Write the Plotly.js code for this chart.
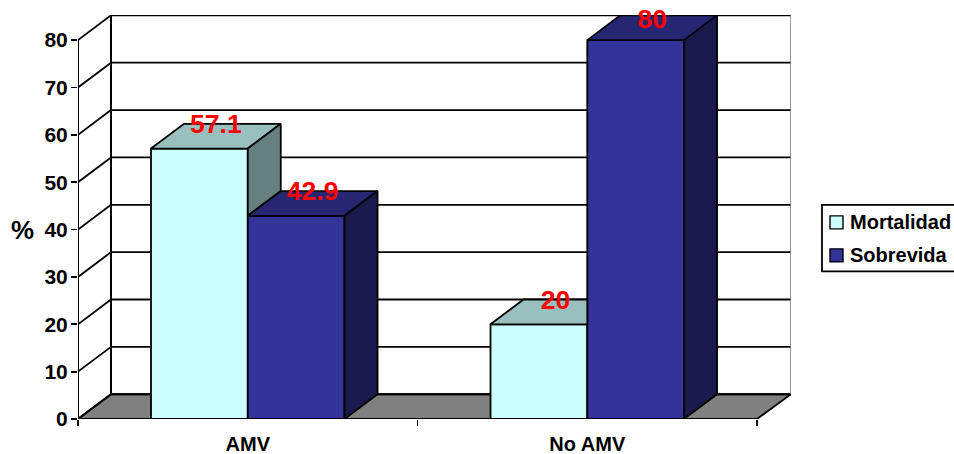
<!DOCTYPE html>
<html>
<head>
<meta charset="utf-8">
<script src="https://cdn.plot.ly/plotly-3.0.1.min.js"></script>
<style>html,body{margin:0;padding:0;background:#fff}</style>
</head>
<body>
<div id="chart" style="width:954px;height:454px"></div>
<script>
var categories = ['AMV', 'No AMV'];
var seriesNames = ['Mortalidad', 'Sobrevida'];
var mortalidad = [57.1, 20];
var sobrevida = [42.9, 80];
var yTicks = [0, 10, 20, 30, 40, 50, 60, 70, 80];

var FONT = '"Liberation Sans", Arial, sans-serif';
var frontColors = ['#CCFFFF', '#333399'];
var topColors = ['#99BFBF', '#262673'];
var sideColors = ['#668080', '#1A1A4D'];

var depthX = 0.0972, depthY = 5.23;
var xMax = 2.1, yMax = 85.3;
var bargap = 0.43, barW = (1 - bargap) / 2;
var centers = [0.5, 1.5];
var lw = 1.8;

function poly(xs, ys, color) {
  return {type: 'scatter', mode: 'lines', x: xs.concat(xs[0]), y: ys.concat(ys[0]),
    fill: 'toself', fillcolor: color, line: {color: '#000', width: lw, shape: 'linear'},
    hoverinfo: 'skip', showlegend: false, cliponaxis: false};
}

var traces = [
  {type: 'bar', name: seriesNames[0], x: centers, y: mortalidad, marker: {color: frontColors[0], line: {color: '#000', width: lw}}, showlegend: false},
  {type: 'bar', name: seriesNames[1], x: centers, y: sobrevida, marker: {color: frontColors[1], line: {color: '#000', width: lw}}, showlegend: false}
];

centers.forEach(function (c, i) {
  var a = mortalidad[i], b = sobrevida[i];
  var l0 = c - barW, m = c, r1 = c + barW;
  // Mortalidad faces: only the part not hidden by the neighbouring bar
  if (b >= a) {
    traces.push(poly([l0, m, m, l0 + depthX], [a, a, a + depthY, a + depthY], topColors[0]));
  } else {
    traces.push(poly([l0, m, m + depthX, l0 + depthX], [a, a, a + depthY, a + depthY], topColors[0]));
    traces.push(poly([m, m + depthX, m + depthX, m], [a, a + depthY, b + depthY, b], sideColors[0]));
  }
  // Sobrevida faces
  traces.push(poly([m, r1, r1 + depthX, m + depthX], [b, b, b + depthY, b + depthY], topColors[1]));
  traces.push(poly([r1, r1 + depthX, r1 + depthX, r1], [0, depthY, b + depthY, b], sideColors[1]));
});

// data labels
var labelX = [], labelY = [], labelT = [];
[mortalidad, sobrevida].forEach(function (vals, s) {
  vals.forEach(function (v, i) {
    labelX.push(centers[i] + (s === 0 ? -barW / 2 : barW / 2) + depthX / 2);
    labelY.push(Math.min(v + depthY - 0.55, 84.0));
    labelT.push(String(v));
  });
});
traces.push({type: 'scatter', mode: 'text', x: labelX, y: labelY, text: labelT,
  textposition: 'middle center', textfont: {family: FONT, size: 26.5, color: '#FF0000', weight: 700},
  hoverinfo: 'skip', showlegend: false, cliponaxis: false});

// walls, floor, grid
var shapes = [];
function seg(x0, y0, x1, y1, layer, color, width) {
  shapes.push({type: 'line', xref: 'x', yref: 'y', x0: x0, y0: y0, x1: x1, y1: y1, layer: layer,
    line: {color: color || '#000', width: width || lw}});
}
shapes.push({type: 'path', xref: 'x', yref: 'y', layer: 'below', fillcolor: '#808080',
  path: 'M0,0 L2,0 L' + xMax + ',' + depthY + ' L' + depthX + ',' + depthY + ' Z',
  line: {color: '#000', width: lw}});
yTicks.forEach(function (t) {
  seg(0, t, depthX, t + depthY, 'below');
  seg(depthX, t + depthY, xMax, t + depthY, 'below', '#000', t === 80 ? 2 : lw);
});
seg(0, 0, 0, 80, 'below', '#000', 2);
seg(depthX, depthY, depthX, 80 + depthY, 'below', '#000', 2);
seg(xMax, depthY, xMax, 80 + depthY, 'below', '#777', 1.5);
seg(0, 0, 2, 0, 'above', '#000', 2);

// legend box (series names come from seriesNames)
var pl = 78, pr = 791, pt = 15, pb = 419.3;
function px(x) { return (x - pl) / (pr - pl); }
function py(y) { return (pb - y) / (pb - pt); }
function rect(x0, y0, x1, y1, fill, w) {
  shapes.push({type: 'rect', xref: 'paper', yref: 'paper', x0: px(x0), x1: px(x1), y0: py(y0), y1: py(y1),
    fillcolor: fill, line: {color: '#000', width: w}, layer: 'above'});
}
rect(822, 205, 965, 271.5, 'rgba(255,255,255,0)', 1.8);
rect(830, 216, 843, 229, frontColors[0], 1.4);
rect(830, 249, 843, 262, frontColors[1], 1.4);

var annotations = [
  {xref: 'paper', yref: 'paper', x: px(848), y: py(222.5), xanchor: 'left', yanchor: 'middle', showarrow: false,
   text: seriesNames[0], font: {family: FONT, size: 20, color: '#000', weight: 700}},
  {xref: 'paper', yref: 'paper', x: px(848), y: py(255.5), xanchor: 'left', yanchor: 'middle', showarrow: false,
   text: seriesNames[1], font: {family: FONT, size: 20, color: '#000', weight: 700}},
  {xref: 'paper', yref: 'paper', x: px(22.5), y: py(230), xanchor: 'center', yanchor: 'middle', showarrow: false,
   text: '%', font: {family: FONT, size: 26, color: '#000', weight: 700}}
];

var layout = {
  width: 954, height: 454, autosize: false,
  margin: {l: pl, r: 954 - pr, t: pt, b: 454 - pb, pad: 0},
  paper_bgcolor: '#fff', plot_bgcolor: 'rgba(0,0,0,0)',
  showlegend: false, barmode: 'group', bargap: bargap, bargroupgap: 0,
  hovermode: false,
  xaxis: {range: [0, xMax], autorange: false, tickmode: 'array', tickvals: centers, ticktext: categories,
    ticks: '', showgrid: false, zeroline: false, showline: false, ticklabelstandoff: 11,
    tickfont: {family: FONT, size: 20, color: '#000', weight: 700},
    minor: {tickmode: 'array', tickvals: [0, 1, 2], ticks: 'outside', ticklen: 6, tickwidth: 1.8, tickcolor: '#000', showgrid: false}},
  yaxis: {range: [0, yMax], autorange: false, tickmode: 'array', tickvals: yTicks,
    ticks: 'outside', ticklen: 6, tickwidth: 1.8, tickcolor: '#000', showgrid: false, zeroline: false, showline: false,
    ticklabelstandoff: -1,
    tickfont: {family: FONT, size: 21, color: '#000', weight: 700}},
  shapes: shapes,
  annotations: annotations
};

Plotly.newPlot('chart', traces, layout, {displayModeBar: false, staticPlot: true});
</script>
</body>
</html>
